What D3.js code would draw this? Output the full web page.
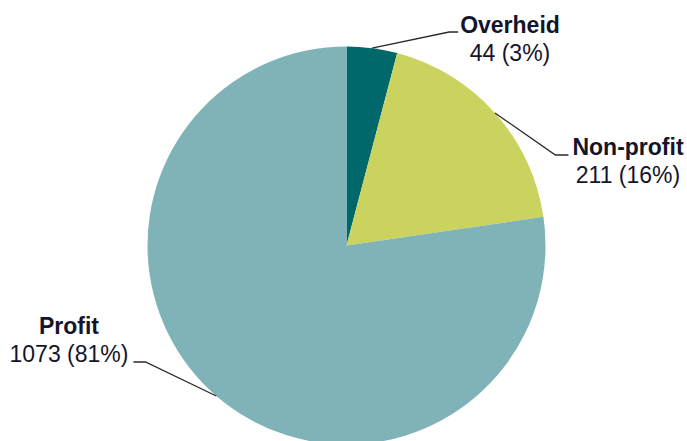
<!DOCTYPE html>
<html>
<head>
<meta charset="utf-8">
<script src="https://cdn.jsdelivr.net/npm/d3@7"></script>
<style>
  html, body { margin: 0; padding: 0; background: #fff; }
  svg { display: block; }
</style>
</head>
<body>
<div id="chartContainer"></div>
<script>
// data
const categories = ['Overheid', 'Non-profit', 'Profit'];
const counts = [44, 211, 1073];
const percents = [3, 16, 81];
// slice sizes as drawn in the reference (degrees of the circle, in %)
const sliceShares = [4.1, 18.6, 77.3];

const colors = ['#00676b', '#cad35e', '#80b3b8'];

const width = 687;
const height = 441;
const cx = 346.5;
const cy = 245.5;
const radius = 199;

// label layout: text centre x, first baseline y, which line the leader meets, side of text
const labelLayout = [
    { x: 510, y: 33, lineAt: 0, lineDy: -1, side: 'left', gap: 2, elbow: 9 },
    { x: 628, y: 155, lineAt: 0, lineDy: 0, side: 'left', gap: 4, elbow: 13 },
    { x: 69, y: 334, lineAt: 1, lineDy: 0, side: 'right', gap: 5, elbow: 12 }
];
const lineHeight = 28;

const slices = categories.map((c, i) => ({
    name: c,
    count: counts[i],
    pct: percents[i],
    share: sliceShares[i],
    color: colors[i],
    layout: labelLayout[i]
}));

const svg = d3.select('#chartContainer')
    .append('svg')
    .attr('width', width)
    .attr('height', height)
    .style('font-family', '"Liberation Sans", Arial, sans-serif');

const pie = d3.pie()
    .value(d => d.share)
    .sort(null);

const arcs = pie(slices);

const arcMaker = d3.arc()
    .innerRadius(0)
    .outerRadius(radius);

const edgeArc = d3.arc()
    .innerRadius(radius)
    .outerRadius(radius);

const pieGroup = svg.append('g')
    .attr('transform', `translate(${cx},${cy})`);

pieGroup.selectAll('path')
    .data(arcs)
    .enter()
    .append('path')
    .attr('d', arcMaker)
    .attr('fill', d => d.data.color);

// labels
const labelGroup = svg.append('g').attr('class', 'labels');

const labels = labelGroup.selectAll('g.label')
    .data(arcs)
    .enter()
    .append('g')
    .attr('class', 'label');

labels.append('text')
    .attr('class', 'name')
    .attr('x', d => d.data.layout.x)
    .attr('y', d => d.data.layout.y)
    .attr('text-anchor', 'middle')
    .style('font-size', '23px')
    .style('font-weight', 'bold')
    .style('fill', '#14142a')
    .text(d => d.data.name);

labels.append('text')
    .attr('class', 'value')
    .attr('x', d => d.data.layout.x)
    .attr('y', d => d.data.layout.y + lineHeight)
    .attr('text-anchor', 'middle')
    .style('font-size', '23px')
    .style('fill', '#14142a')
    .text(d => `${d.data.count} (${d.data.pct}%)`);

// leader lines from slice edge to the label
labels.each(function (d) {
    const g = d3.select(this);
    const L = d.data.layout;
    const texts = g.selectAll('text').nodes();
    const box = texts[L.lineAt].getBBox();
    const y = L.y + L.lineAt * lineHeight + L.lineDy;
    const endX = L.side === 'left' ? box.x - L.gap : box.x + box.width + L.gap;
    const elbowX = L.side === 'left' ? endX - L.elbow : endX + L.elbow;
    const c = edgeArc.centroid(d);
    const pts = [[cx + c[0], cy + c[1]], [elbowX, y], [endX, y]];
    g.insert('path', 'text')
        .attr('d', d3.line()(pts))
        .attr('fill', 'none')
        .attr('stroke', '#2a2a2a')
        .attr('stroke-width', 1.3);
});
</script>
</body>
</html>
